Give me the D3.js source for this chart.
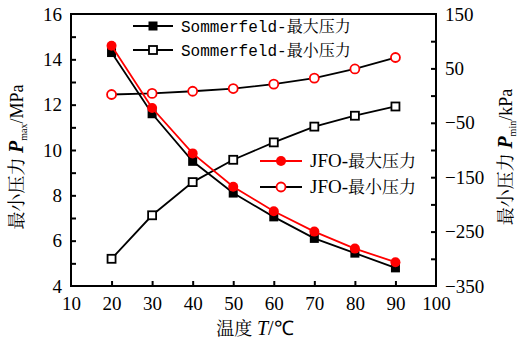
<!DOCTYPE html>
<html><head><meta charset="utf-8">
<script src="https://cdn.jsdelivr.net/npm/d3@7"></script>
<style>body{margin:0;background:#fff}</style>
</head><body>
<svg id="c" width="519" height="341"></svg>
<script>
const temps = [20,30,40,50,60,70,80,90];
const sommerfeldMax = [14.3,11.6,9.5,8.1,7.05,6.1,5.45,4.8];
const jfoMax = [14.6,11.85,9.85,8.38,7.3,6.4,5.65,5.05];
const sommerfeldMin = [-300,-220,-159,-118,-86,-57,-37,-20];
const jfoMin = [2,4,8,13,21,32,49,70];
const xTicks = [10,20,30,40,50,60,70,80,90,100];
const yLeftTicks = [4,6,8,10,12,14,16];
const yRightTicks = [150,50,-50,-150,-250,-350];

const svg = d3.select("#c");
const L=71, R=436, T=14, B=286;
const x = d3.scaleLinear().domain([10,100]).range([L,R]);
const yL = d3.scaleLinear().domain([4,16]).range([B,T]);
const yR = d3.scaleLinear().domain([-350,150]).range([B,T]);
const serif = "'Liberation Serif'";
const mono = "'Liberation Mono'";
const cjk = "'Noto Serif CJK SC'";

// frame
svg.append("rect").attr("x",L).attr("y",T).attr("width",R-L).attr("height",B-T)
  .attr("fill","none").attr("stroke","#000").attr("stroke-width",2);

function styleAxis(g){
  g.attr("font-family",null).attr("font-size",null);
  g.select(".domain").remove();
  g.selectAll("line").attr("stroke","#000").attr("stroke-width",2);
  g.selectAll("text").style("font-family",serif).style("font-size","19px").attr("fill","#000");
}
// bottom axis
const gx = svg.append("g").attr("transform",`translate(0,${B})`)
  .call(d3.axisBottom(x).tickValues(xTicks).tickSize(-5).tickPadding(11).tickFormat(d3.format("d")));
styleAxis(gx);
gx.selectAll(".tick").filter(d=>d===10||d===100).select("line").remove();
// left axis
const gyl = svg.append("g").attr("transform",`translate(${L},0)`)
  .call(d3.axisLeft(yL).tickValues(d3.range(4,16.01,1)).tickSize(-5).tickPadding(9)
    .tickFormat(d=>yLeftTicks.includes(d)?d:""));
styleAxis(gyl);
gyl.selectAll(".tick").filter(d=>d===4||d===16).select("line").remove();
// right axis
const gyr = svg.append("g").attr("transform",`translate(${R},0)`)
  .call(d3.axisRight(yR).tickValues(d3.range(-350,150.1,50)).tickSize(-5).tickPadding(9)
    .tickFormat(d=>yRightTicks.includes(d)?(d<0?"\u2212"+(-d):d):""));
styleAxis(gyr);
gyr.selectAll(".tick").filter(d=>d===-350||d===150).select("line").remove();

const lineL = d3.line().x((d,i)=>x(temps[i])).y(d=>yL(d));
const lineR = d3.line().x((d,i)=>x(temps[i])).y(d=>yR(d));

function drawSeries(vals, line, scale, lineColor, marker){
  svg.append("path").datum(vals).attr("d",line).attr("fill","none")
    .attr("stroke",lineColor).attr("stroke-width",1.8);
  vals.forEach((v,i)=>marker(svg, x(temps[i]), scale(v)));
}
const filledSq = (g,cx,cy)=>g.append("rect").attr("x",cx-4.5).attr("y",cy-4.5).attr("width",9).attr("height",9).attr("fill","#000");
const openSq = (g,cx,cy)=>g.append("rect").attr("x",cx-4).attr("y",cy-4).attr("width",8).attr("height",8).attr("fill","#fff").attr("stroke","#000").attr("stroke-width",1.8);
const redDot = (g,cx,cy)=>g.append("circle").attr("cx",cx).attr("cy",cy).attr("r",5).attr("fill","#f00");
const redOpen = (g,cx,cy)=>g.append("circle").attr("cx",cx).attr("cy",cy).attr("r",4.5).attr("fill","#fff").attr("stroke","#f00").attr("stroke-width",1.8);

drawSeries(jfoMin, lineR, yR, "#000", redOpen);
drawSeries(sommerfeldMin, lineR, yR, "#000", openSq);
drawSeries(sommerfeldMax, lineL, yL, "#000", filledSq);
drawSeries(jfoMax, lineL, yL, "#f00", redDot);

// legends
function legend(x0,x1,y,color,marker,name,suffix,cs){
  svg.append("line").attr("x1",x0).attr("x2",x1).attr("y1",y).attr("y2",y).attr("stroke",color).attr("stroke-width",2);
  marker(svg,(x0+x1)/2,y);
  const t = svg.append("text").attr("x",x1+8).attr("y",y+6).attr("fill","#000");
  t.append("tspan").style("font-family",name==="JFO"?serif:mono).style("font-size",name==="JFO"?"19px":"16px").text(name+"-");
  t.append("tspan").style("font-family",cjk).style("font-size",cs+"px").text(suffix);
}
legend(133,173,26,"#000",filledSq,"Sommerfeld","最大压力",16);
legend(133,173,50,"#000",openSq,"Sommerfeld","最小压力",16);
legend(260,302,161,"#f00",redDot,"JFO","最大压力",17);
legend(260,302,187,"#000",redOpen,"JFO","最小压力",17);

// axis titles
function ytitle(cx,cy,sub,unit){
  const t = svg.append("text").attr("transform",`translate(${cx},${cy}) rotate(-90)`)
    .attr("text-anchor","middle").attr("fill","#000");
  t.append("tspan").style("font-family",cjk).style("font-size","18px").text("最小压力 ");
  t.append("tspan").style("font-family",serif).attr("font-weight","bold").attr("font-style","italic").style("font-size","20px").text("P");
  t.append("tspan").style("font-family",serif).style("font-size","10px").attr("dy",4).text(sub);
  t.append("tspan").style("font-family",serif).style("font-size","18px").attr("dy",-4).text("/"+unit);
}
ytitle(23,157,"max","MPa");
ytitle(512,157,"min","kPa");
const xt = svg.append("text").attr("x",255).attr("y",335).attr("text-anchor","middle").attr("fill","#000");
xt.append("tspan").style("font-family",cjk).style("font-size","18px").text("温度 ");
xt.append("tspan").style("font-family",serif).style("font-size","20px").attr("font-style","italic").text("T");
xt.append("tspan").style("font-family",serif).style("font-size","20px").text("/℃");
</script>
</body></html>
